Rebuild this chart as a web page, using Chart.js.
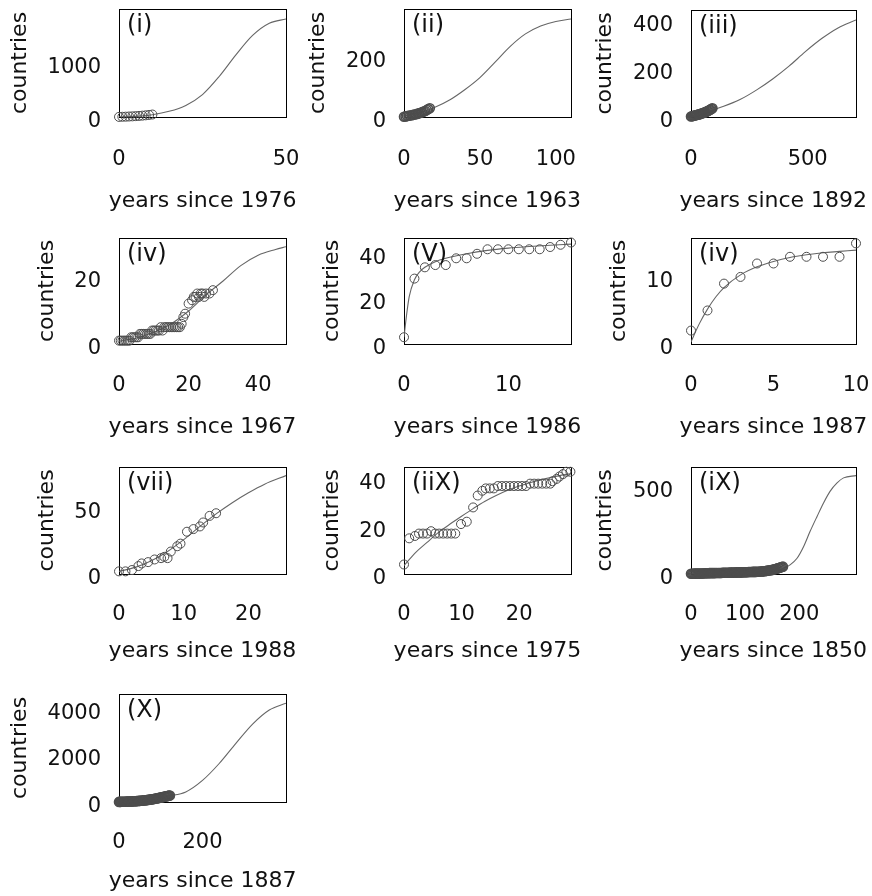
<!DOCTYPE html>
<html>
<head>
<meta charset="utf-8">
<script src="https://cdn.jsdelivr.net/npm/chart.js@4.4.1/dist/chart.umd.min.js"></script>
<style>
html,body{margin:0;padding:0;background:#fff;}
body{position:relative;width:872px;height:896px;overflow:hidden;}
canvas{position:absolute;}
</style>
</head>
<body>
<script>
// ---------------- DATA ----------------
// (i) years since 1976
const ptsX_i = [0,1,2,3,4,5,6,7,8,9,10];
const ptsY_i = [2,4,6,9,12,16,20,25,31,38,46];
const fitX_i = [0,5,10,15,20,25,30,35,40,45,50];
const fitY_i = [3,12,42,105,215,415,750,1150,1510,1735,1815];
const xTicks_i = [0,50];
const yTicks_i = [0,1000];

// (ii) years since 1963
const ptsX_ii = [0,1,2,3,4,5,6,7,8,9,10,11,12,13,14,15,16,17];
const ptsY_ii = [1,2,3,4,5,6,7,8,9,11,12,14,16,18,20,23,26,29];
const fitX_ii = [0,10,20,30,40,50,60,70,80,90,100,110];
const fitY_ii = [4,13,31,56,90,130,181,233,274,300,315,323];
const xTicks_ii = [0,50,100];
const yTicks_ii = [0,200];

// (iii) years since 1892
const ptsX_iii = [0,4,8,12,16,20,24,28,32,36,40,44,48,52,56,60,64,68,72,76,80,84,88,92];
const ptsY_iii = [2,3,4,5,6,7,8,9,10,11,12,14,15,16,18,19,21,23,25,27,29,31,34,36];
const fitX_iii = [0,70,140,210,280,350,420,490,560,630,707];
const fitY_iii = [4,22,44,72,111,157,210,270,324,368,401];
const xTicks_iii = [0,500];
const yTicks_iii = [0,200,400];

// (iv) years since 1967
const ptsX_iv = [0,0.5,1,1.5,2,2.5,3,3.5,4,4.5,5,5.5,6,6.5,7,7.5,8,8.5,9,9.5,10,10.5,11,11.5,12,12.5,13,13.5,14,14.5,15,15.5,16,16.5,17,17.5,18,18.5,19,20,21,21.5,22,22.5,23,23.5,24,24.5,25,26,27];
const ptsY_iv = [1,1,1,1,1,1,1,2,2,2,2,2,3,3,3,3,3,3,3,4,4,4,4,4,5,4,5,5,5,5,5,5,5,5,5,5,6,8,9,12,13,14,14,15,14,15,15,14,15,15,16];
const fitX_iv = [0,5,10,15,20,25,30,35,40,45,48];
const fitY_iv = [0.8,1.8,3.5,6,9.8,14.6,18.8,23.3,26.4,28.1,28.9];
const xTicks_iv = [0,20,40];
const yTicks_iv = [0,20];

// (V) years since 1986
const ptsX_v = [0,1,2,3,4,5,6,7,8,9,10,11,12,13,14,15,16];
const ptsY_v = [3,29,34,35,35,38,38,40,42,42,42,42,42,42,43,44,45];
const fitX_v = [0,0.25,0.5,1,1.5,2,3,4,6,8,10,12,14,16];
const fitY_v = [3,13,21,28.5,32,34,36.5,38,40,41.5,42.5,43.2,43.8,44.3];
const xTicks_v = [0,10];
const yTicks_v = [0,20,40];

// (iv) years since 1987
const ptsX_vi = [0,1,2,3,4,5,6,7,8,9,10];
const ptsY_vi = [2,5,9,10,12,12,13,13,13,13,15];
const fitX_vi = [0,0.5,1,1.5,2,3,4,5,6,7,8,9,10];
const fitY_vi = [0.3,3,5.2,7,8.4,10.3,11.5,12.3,12.9,13.3,13.6,13.8,14.0];
const xTicks_vi = [0,5,10];
const yTicks_vi = [0,10];

// (vii) years since 1988
const ptsX_vii = [0,1,2,3,3.5,4.5,5.5,6.5,7,7.5,8,9,9.5,10.5,11.5,12.5,13,14,15];
const ptsY_vii = [2,2,3,6,8,9,11,12,13,12,17,21,23,32,34,36,39,44,46];
const fitX_vii = [0,2.5,5,7.5,10,12.5,15,17.5,20,22.5,25.8];
const fitY_vii = [2,5,10,17,26,36,45.5,54,61.5,68,74.5];
const xTicks_vii = [0,10,20];
const yTicks_vii = [0,50];

// (iiX) years since 1975
const ptsX_viii = [0,0.9,1.9,2.6,3.3,4.0,4.7,5.4,6.1,6.8,7.5,8.2,8.9,9.9,10.9,12.0,12.8,13.6,14.2,14.9,15.6,16.3,17.0,17.7,18.4,19.1,19.8,20.5,21.2,21.9,22.6,23.3,24.0,24.7,25.4,25.8,26.5,27.0,27.6,28.2,28.9];
const ptsY_viii = [4,15,16,17,17,17,18,17,17,17,17,17,17,21,22,28,33,35,36,36,36,37,37,37,37,37,37,37,37,38,38,38,38,38,38,39,40,41,42,43,43];
const fitX_viii = [0,2,4,6,8,10,12,14,16,18,20,22,24,26,29];
const fitY_viii = [3.5,9,13.3,17.5,21,24.3,27.5,30.5,33,35.2,37,38.5,39.8,40.9,42.2];
const xTicks_viii = [0,10,20];
const yTicks_viii = [0,20,40];

// (iX) years since 1850
const ptsX_ix = [0,2,4,6,8,10,12,14,16,18,20,22,24,26,28,30,32,34,36,38,40,42,44,46,48,50,52,54,56,58,60,62,64,66,68,70,72,74,76,78,80,82,84,86,88,90,92,94,96,98,100,102,104,106,108,110,112,114,116,118,120,122,124,126,128,130,132,134,136,138,140,142,144,146,148,150,152,154,156,158,160,162,164,166,168,170];
const ptsY_ix = [1,1,1,2,2,2,2,3,3,3,3,3,4,4,4,4,4,5,5,5,5,5,5,6,6,6,6,6,6,7,7,7,7,7,7,7,8,8,8,8,8,8,9,9,9,9,9,9,10,10,10,10,10,11,11,11,11,12,12,12,12,13,13,13,14,14,15,15,16,17,18,19,20,21,22,23,25,27,28,30,32,34,36,38,40,42];
const fitX_ix = [0,50,100,130,150,165,175,183,196,208,220,233,245,257,270,282,305];
const fitY_ix = [0,1,3,7,13,25,38,52,90,156,242,328,405,471,519,548,561];
const xTicks_ix = [0,100,200];
const yTicks_ix = [0,500];

// (X) years since 1887
const ptsX_x = [0,2,4,6,8,10,12,14,16,18,20,22,24,26,28,30,32,34,36,38,40,42,44,46,48,50,52,54,56,58,60,62,64,66,68,70,72,74,76,78,80,82,84,86,88,90,92,94,96,98,100,102,104,106,108,110,112,114,116,118,120,122];
const ptsY_x = [5,6,7,8,9,10,11,12,13,14,15,17,19,21,23,25,27,29,31,33,35,38,41,44,47,50,53,56,60,64,68,72,76,80,85,90,95,100,106,112,118,124,130,137,144,151,158,166,174,182,190,198,206,214,222,230,238,246,254,262,270,278];
const fitX_x = [0,40,80,120,160,200,240,280,320,360,400];
const fitY_x = [30,60,130,260,430,920,1640,2500,3320,3920,4210];
const xTicks_x = [0,200];
const yTicks_x = [0,2000,4000];

const panelNames = ['(i)','(ii)','(iii)','(iv)','(V)','(iv)','(vii)','(iiX)','(iX)','(X)'];
const baseYears = [1976,1963,1892,1967,1986,1987,1988,1975,1850,1887];
const xMaxes = [50,110,707,48,16,10,25.8,29,305,400];
const yMaxes = [2000,356,442,31.5,47,15.8,81,45,610,4600];

// ---------------- LAYOUT / STYLE ----------------
const FONT = "'DejaVu Sans', sans-serif";
const TICK_SIZE = 21, TITLE_SIZE = 22, LABEL_SIZE = 24, LH = 1.2;
// plot rectangles [left, top, right, bottom], canvas left, x tick/title gaps
const frames = [
  [119,9,286,117],[404,9,571,117],[691,10,856,117],
  [119,238,286,344],[404,238,571,344],[691,238,856,344],
  [119,467,286,574],[404,467,571,574],[691,467,856,574],
  [119,694,286,802]
];
const canvasLefts = [0,296,583,0,296,583,0,296,583,0];
const xTickGaps = [42.4,42.4,42.4,42,42,42,41,41,41,40.7];
const xTitleGaps = [84.7,84.7,84.7,83,83,83,77.5,77.5,77.5,79.7];
const pointBorderWidths = [1,1.6,1.6,1,1,1,1,1,1.6,1.6];
const yLabelShift = 5;

const panelData = [
  [ptsX_i,ptsY_i,fitX_i,fitY_i,xTicks_i,yTicks_i],
  [ptsX_ii,ptsY_ii,fitX_ii,fitY_ii,xTicks_ii,yTicks_ii],
  [ptsX_iii,ptsY_iii,fitX_iii,fitY_iii,xTicks_iii,yTicks_iii],
  [ptsX_iv,ptsY_iv,fitX_iv,fitY_iv,xTicks_iv,yTicks_iv],
  [ptsX_v,ptsY_v,fitX_v,fitY_v,xTicks_v,yTicks_v],
  [ptsX_vi,ptsY_vi,fitX_vi,fitY_vi,xTicks_vi,yTicks_vi],
  [ptsX_vii,ptsY_vii,fitX_vii,fitY_vii,xTicks_vii,yTicks_vii],
  [ptsX_viii,ptsY_viii,fitX_viii,fitY_viii,xTicks_viii,yTicks_viii],
  [ptsX_ix,ptsY_ix,fitX_ix,fitY_ix,xTicks_ix,yTicks_ix],
  [ptsX_x,ptsY_x,fitX_x,fitY_x,xTicks_x,yTicks_x]
];

const measureCtx = document.createElement('canvas').getContext('2d');
function textWidth(t, size){
  measureCtx.font = 'normal ' + size + 'px ' + FONT;
  return measureCtx.measureText(t).width;
}

const panelLabelPlugin = {
  id: 'panelLabel',
  afterDatasetsDraw(chart, args, opts){
    const {ctx, chartArea} = chart;
    ctx.save();
    ctx.font = 'normal ' + LABEL_SIZE + 'px ' + FONT;
    ctx.fillStyle = '#111';
    ctx.textAlign = 'left';
    ctx.textBaseline = 'middle';
    ctx.fillText(opts.text, chartArea.left + 8, chartArea.top + 17);
    ctx.restore();
  }
};

Chart.defaults.font.family = FONT;

function makePanel(k){
  const [ptsX, ptsY, fitX, fitY, xTicks, yTicks] = panelData[k];
  const [pl, pt, pr, pb] = frames[k];
  const L = canvasLefts[k];
  const T = pt - 20;
  // y axis (left) width
  const widest = Math.max(...yTicks.map(v => textWidth(String(v), TICK_SIZE)));
  const tickLenY = 16, yTitlePadB = 12;
  const yScaleW = tickLenY + TITLE_SIZE*LH + yTitlePadB + widest + 4;
  const padLeft = pl - L - yScaleW;
  // canvas symmetric around the plot centre so the bottom title is centred on the plot
  const plotCentre = (pl + pr) / 2 - L;
  const W = Math.round(2 * plotCentre - padLeft);
  const rightW = W - (pr - L);
  // x axis (ticks only) + bottom title
  const tickLenX = xTickGaps[k] - 2 - TICK_SIZE*LH/2;
  const xScaleH = tickLenX + TICK_SIZE*LH + 4;
  const titlePadTop = xTitleGaps[k] - xScaleH - TITLE_SIZE*LH/2;
  const titleH = TITLE_SIZE*LH + titlePadTop;
  const H = Math.ceil(pb - T + xScaleH + titleH + 6);
  const padBottom = H - (pb - T) - xScaleH - titleH;

  const canvas = document.createElement('canvas');
  canvas.width = W; canvas.height = H;
  canvas.style.left = L + 'px'; canvas.style.top = T + 'px';
  canvas.style.width = W + 'px'; canvas.style.height = H + 'px';
  document.body.appendChild(canvas);

  const pts = ptsX.map((x,i) => ({x, y: ptsY[i]}));
  const fit = fitX.map((x,i) => ({x, y: fitY[i]}));

  new Chart(canvas, {
    type: 'scatter',
    data: {
      datasets: [
        {type:'line', data: fit, borderColor:'#666', borderWidth:1.1, pointRadius:0, fill:false,
         cubicInterpolationMode:'monotone', order:2},
        {type:'scatter', data: pts, pointRadius:4.5, pointBorderWidth:pointBorderWidths[k], borderColor:'#4d4d4d',
         backgroundColor:'rgba(0,0,0,0)', clip:false, order:1}
      ]
    },
    options: {
      responsive:false, animation:false, devicePixelRatio:1, events:[],
      layout:{padding:{left:padLeft, right:0, top:20, bottom:padBottom}},
      plugins:{
        legend:{display:false}, tooltip:{enabled:false},
        title:{display:true, position:'bottom', fullSize:true, align:'center',
               text:'years since ' + baseYears[k], color:'#111',
               font:{family:FONT, size:TITLE_SIZE, weight:'normal'},
               padding:{top:titlePadTop, bottom:0}},
        panelLabel:{text: panelNames[k]}
      },
      scales:{
        x:{type:'linear', position:'bottom', min:0, max:xMaxes[k],
           afterBuildTicks: ax => { ax.ticks = xTicks.map(v => ({value:v})); },
           afterFit: ax => { ax.height = xScaleH; },
           grid:{display:true, drawOnChartArea:false, drawTicks:true, tickLength:tickLenX, tickColor:'rgba(0,0,0,0)'},
           border:{display:true, color:'#000', width:1},
           ticks:{padding:2, maxRotation:0, minRotation:0, autoSkip:false, color:'#111',
                  font:{family:FONT, size:TICK_SIZE}, callback: v => String(v)},
           title:{display:false}},
        y:{type:'linear', position:'left', min:0, max:yMaxes[k],
           afterBuildTicks: ax => { ax.ticks = yTicks.map(v => ({value:v})); },
           afterFit: ax => { ax.width = yScaleW; },
           grid:{display:true, drawOnChartArea:false, drawTicks:true, tickLength:tickLenY, tickColor:'rgba(0,0,0,0)'},
           border:{display:true, color:'#000', width:1},
           ticks:{padding:2, autoSkip:false, labelOffset:yLabelShift, color:'#111',
                  font:{family:FONT, size:TICK_SIZE}, callback: v => String(v)},
           title:{display:true, text:'countries', color:'#111',
                  font:{family:FONT, size:TITLE_SIZE}, padding:{top:0, bottom:yTitlePadB}}},
        xTop:{type:'linear', position:'top', min:0, max:1,
              ticks:{display:false}, grid:{display:true, drawOnChartArea:false, drawTicks:false},
              border:{display:true, color:'#000', width:1}},
        yRight:{type:'linear', position:'right', min:0, max:1,
              afterFit: ax => { ax.width = rightW; },
              ticks:{display:false}, grid:{display:true, drawOnChartArea:false, drawTicks:false},
              border:{display:true, color:'#000', width:1}}
      }
    },
    plugins:[panelLabelPlugin]
  });
}

for (let k = 0; k < panelData.length; k++) makePanel(k);
</script>
</body>
</html>
